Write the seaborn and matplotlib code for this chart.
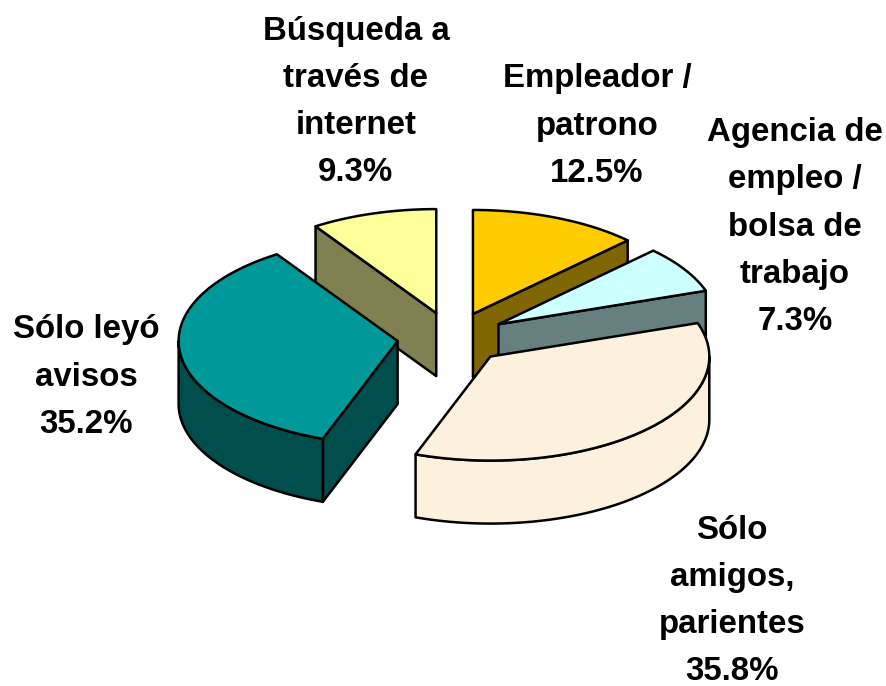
import numpy as np
import matplotlib
matplotlib.use("Agg")
import matplotlib.pyplot as plt
import seaborn as sns

# Data
categories = ["Empleador /\npatrono", "Agencia de\nempleo /\nbolsa de\ntrabajo",
              "Sólo\namigos,\nparientes", "Sólo leyó\navisos", "Búsqueda a\ntravés de\ninternet"]
shares = [12.5, 7.3, 35.8, 35.2, 9.3]
top_hex = ["#FFCC00", "#CCFFFF", "#FDF0DC", "#009999", "#FFFF99"]
side_hex = ["#806600", "#668080", "#FDF0DC", "#004D4D", "#808050"]

# Styling / layout
label_x = [597, 795, 732, 86, 356]
label_y = [126, 227, 601, 377, 102]
CX, CY, RX, RY, DEPTH, EXPLODE = 452, 338, 219, 104, 63, 0.25
LW = 1.8

sns.set_theme(style="white")
plt.rcParams["font.family"] = ["Liberation Sans", "DejaVu Sans"]
top_cols = sns.color_palette(top_hex)
side_cols = sns.color_palette(side_hex)

fig, ax = plt.subplots(figsize=(8.86, 6.86), dpi=100)
ax.set_position([0, 0, 1, 1])
ax.set_xlim(0, 886)
ax.set_ylim(686, 0)
ax.axis("off")


def rim(cx, cy, deg, dy=0.0):
    r = np.radians(deg)
    return cx + RX * np.sin(r), cy - RY * np.cos(r) + dy


def face(xs, ys, col, z):
    ax.fill(xs, ys, facecolor=col, edgecolor="black", linewidth=LW,
            joinstyle="round", zorder=z)


frac = np.array(shares) / np.sum(shares) * 360
ends = np.cumsum(frac)
starts = ends - frac
# painter's order: back to front
order = [4, 0, 1, 3, 2]
for z, i in enumerate(order):
    a, b = starts[i], ends[i]
    mid = (a + b) / 2
    ox, oy = rim(0, 0, mid)
    cx, cy = CX + EXPLODE * ox, CY + EXPLODE * oy
    base = z * 10
    # only radial walls that face the viewer
    visible = []
    if np.sin(np.radians(a)) < -1e-6:
        visible.append(a)
    if np.sin(np.radians(b)) > 1e-6:
        visible.append(b)
    for ang in visible:
        px, py = rim(cx, cy, ang)
        face([cx, px, px, cx], [cy, py, py + DEPTH, cy + DEPTH], side_cols[i], base + 1)
    lo, hi = max(a, 90), min(b, 270)
    if hi > lo:
        t = np.linspace(lo, hi, 80)
        x1, y1 = rim(cx, cy, t)
        x2, y2 = rim(cx, cy, t[::-1], DEPTH)
        face(np.r_[x1, x2], np.r_[y1, y2], side_cols[i], base + 2)
    t = np.linspace(a, b, 120)
    xt, yt = rim(cx, cy, t)
    face(np.r_[cx, xt], np.r_[cy, yt], top_cols[i], base + 3)

for name, val, x, y in zip(categories, shares, label_x, label_y):
    ax.text(x, y, f"{name}\n{val:.1f}%", ha="center", va="center", ma="center",
            fontsize=23.8, fontweight="bold", color="black", linespacing=1.67, zorder=100)

fig.savefig("out.png", dpi=100, facecolor="white")
